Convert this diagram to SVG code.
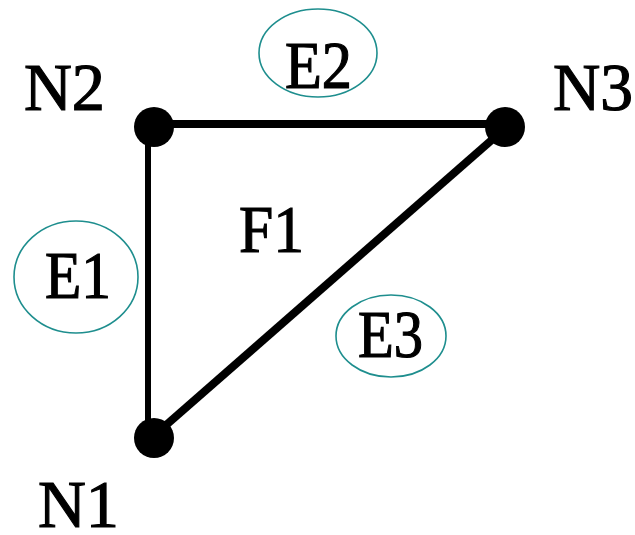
<svg xmlns="http://www.w3.org/2000/svg" width="635" height="535" viewBox="0 0 635 535">
<style>
.lbl{font-family:"Liberation Serif","Times New Roman",serif;font-size:68px;fill:#000;stroke:#000;stroke-width:1.2}
.edge{stroke:#000;fill:none}
.ring{fill:none;stroke:#1e8e8e;stroke-width:1.6}
.dot{fill:#000}
</style>
<rect width="635" height="535" fill="#fff"/>
<g id="connectors">
<line class="edge" x1="154" y1="124" x2="505" y2="124" stroke-width="8"/>
<line class="edge" x1="148" y1="127" x2="148" y2="438" stroke-width="6"/>
<line class="edge" x1="157" y1="433" x2="502" y2="131" stroke-width="8"/>
</g>
<g id="N1"><circle class="dot" cx="154" cy="438" r="20"/><text class="lbl" x="38" y="527" textLength="81" lengthAdjust="spacingAndGlyphs">N1</text></g>
<g id="N2"><circle class="dot" cx="154" cy="127" r="20"/><text class="lbl" x="24" y="110" textLength="81" lengthAdjust="spacingAndGlyphs">N2</text></g>
<g id="N3"><circle class="dot" cx="505" cy="127" r="20"/><text class="lbl" x="553" y="110" textLength="80" lengthAdjust="spacingAndGlyphs">N3</text></g>
<g id="E1"><ellipse class="ring" cx="76" cy="277" rx="62" ry="56"/><text class="lbl" x="45" y="298" textLength="66" lengthAdjust="spacingAndGlyphs">E1</text></g>
<g id="E2"><ellipse class="ring" cx="318" cy="53" rx="59" ry="44"/><text class="lbl" x="285" y="88" textLength="67" lengthAdjust="spacingAndGlyphs">E2</text></g>
<g id="E3"><ellipse class="ring" cx="391" cy="336" rx="55" ry="41"/><text class="lbl" x="358" y="357" textLength="65" lengthAdjust="spacingAndGlyphs">E3</text></g>
<g id="F1"><text class="lbl" x="239" y="252" textLength="65" lengthAdjust="spacingAndGlyphs">F1</text></g>
</svg>
